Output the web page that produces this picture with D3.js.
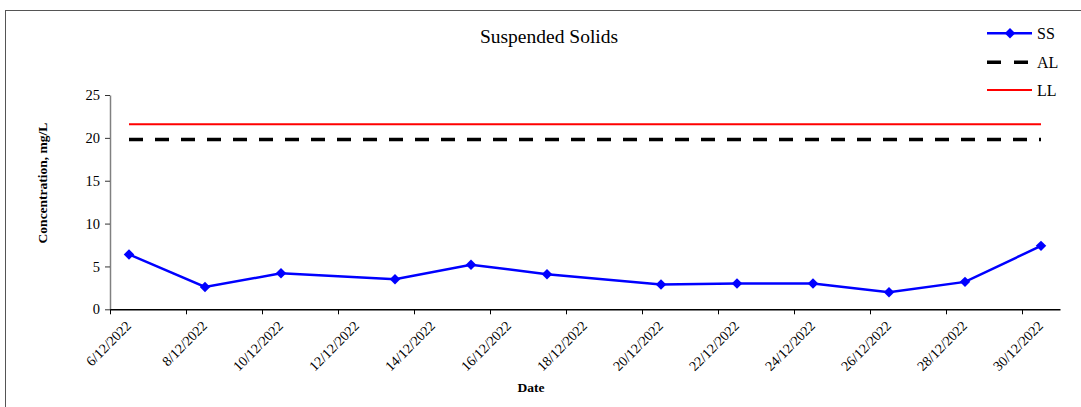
<!DOCTYPE html>
<html><head><meta charset="utf-8">
<script src="https://cdn.jsdelivr.net/npm/d3@7"></script>
<style>body{margin:0;background:#fff}svg{display:block;font-family:"Liberation Serif","Times New Roman",serif}
svg text{font-family:"Liberation Serif","Times New Roman",serif !important}</style>
</head><body><svg id="c" width="1081" height="407"></svg>
<script>
const dates = ["2022-12-06","2022-12-08","2022-12-10","2022-12-13","2022-12-15","2022-12-17","2022-12-20","2022-12-22","2022-12-24","2022-12-26","2022-12-28","2022-12-30"];
const ssValues = [6.4, 2.6, 4.2, 3.5, 5.2, 4.1, 2.9, 3.0, 3.0, 2.0, 3.2, 7.4];
const alValue = 19.8;
const llValue = 21.6;
const yTicks = [0, 5, 10, 15, 20, 25];
const xDomain = ["2022-12-06", "2022-12-31"];
const title = "Suspended Solids";
const yTitle = "Concentration, mg/L";
const xTitle = "Date";

const parse = d3.utcParse("%Y-%m-%d");
const svg = d3.select("#c");
const L = 110, R = 1060, T = 95, B = 309.3;
const x = d3.scaleUtc().domain(xDomain.map(parse)).range([L, R]);
const y = d3.scaleLinear().domain([0, 25]).range([B, T]);
const half = 12 * 3600 * 1000;
const pts = dates.map((d, i) => ({t: new Date(+parse(d) + half), v: ssValues[i]}));

// outer frame
svg.append("rect").attr("x", 5.5).attr("y", 10.5).attr("width", 1100).attr("height", 500)
  .attr("fill", "none").attr("stroke", "#555").attr("stroke-width", 1);

// title
svg.append("text").attr("x", 549).attr("y", 43).attr("text-anchor", "middle")
  .attr("font-size", 19.5).text(title);

// y axis
const ya = svg.append("g").attr("transform", `translate(${L},0)`)
  .call(d3.axisLeft(y).tickValues(yTicks).tickSize(5).tickPadding(5).tickSizeOuter(0));
ya.attr("font-size", 14.5);
ya.select(".domain").attr("stroke", "#808080").attr("stroke-width", 1.5);
ya.selectAll(".tick line").attr("stroke", "#333");
ya.selectAll("text").attr("fill", "#000");

// x axis
const xTickVals = d3.range(0, 13).map(i => new Date(+parse("2022-12-06") + i * 2 * 86400000));
const xa = svg.append("g").attr("transform", `translate(0,${B})`)
  .call(d3.axisBottom(x).tickValues(xTickVals).tickFormat(d3.utcFormat("%-d/%m/%Y")).tickSize(5).tickSizeOuter(0));
xa.attr("font-size", 14);
xa.select(".domain").attr("stroke", "#000").attr("stroke-width", 1.5);
xa.selectAll(".tick line").attr("stroke", "#000");
xa.selectAll("text").attr("fill", "#000")
  .attr("text-anchor", "end").attr("dy", "0.35em").attr("y", 0)
  .attr("transform", "translate(18,14) rotate(-45)");

// axis titles
svg.append("text").attr("transform", "translate(47,183) rotate(-90)").attr("text-anchor", "middle")
  .attr("font-size", 13.5).attr("font-weight", "bold").text(yTitle);
svg.append("text").attr("x", 531).attr("y", 392).attr("text-anchor", "middle")
  .attr("font-size", 13.5).attr("font-weight", "bold").text(xTitle);

// limit lines
const x0 = x(pts[0].t), x1 = x(pts[pts.length - 1].t);
svg.append("line").attr("x1", x0).attr("x2", x1).attr("y1", y(llValue)).attr("y2", y(llValue))
  .attr("stroke", "#ff0000").attr("stroke-width", 2);
svg.append("line").attr("x1", x0).attr("x2", x1).attr("y1", y(alValue)).attr("y2", y(alValue))
  .attr("stroke", "#000").attr("stroke-width", 3.5).attr("stroke-dasharray", "14,12");

// SS line
svg.append("path").datum(pts).attr("fill", "none").attr("stroke", "#0000ff").attr("stroke-width", 2.5)
  .attr("d", d3.line().x(d => x(d.t)).y(d => y(d.v)));
const diamond = d3.symbol().type(d3.symbolDiamond2).size(70);
svg.selectAll(".m").data(pts).join("path").attr("class", "m")
  .attr("transform", d => `translate(${x(d.t)},${y(d.v)})`).attr("d", diamond).attr("fill", "#0000ff");

// legend
const lg = svg.append("g");
const items = [{k:"SS", yy:33.3}, {k:"AL", yy:62.3}, {k:"LL", yy:90}];
items.forEach(it => {
  if (it.k === "SS") {
    lg.append("line").attr("x1", 987).attr("x2", 1032).attr("y1", it.yy).attr("y2", it.yy).attr("stroke", "#0000ff").attr("stroke-width", 2.5);
    lg.append("path").attr("transform", `translate(1010,${it.yy})`).attr("d", diamond).attr("fill", "#0000ff");
  } else if (it.k === "AL") {
    lg.append("line").attr("x1", 987).attr("x2", 1030).attr("y1", it.yy).attr("y2", it.yy).attr("stroke", "#000").attr("stroke-width", 3.5).attr("stroke-dasharray", "14,13");
  } else {
    lg.append("line").attr("x1", 987).attr("x2", 1032).attr("y1", it.yy).attr("y2", it.yy).attr("stroke", "#ff0000").attr("stroke-width", 2);
  }
  lg.append("text").attr("x", 1037).attr("y", it.yy + 5.5).attr("font-size", 16).text(it.k);
});
</script></body></html>
